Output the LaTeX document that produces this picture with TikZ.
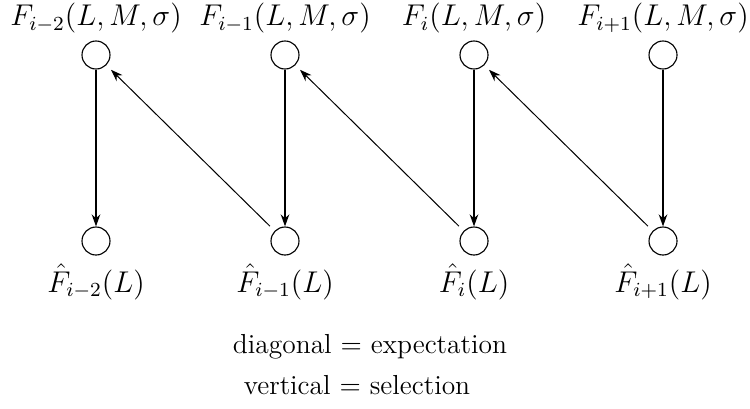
\documentclass[tikz,border=0pt]{standalone}
\usetikzlibrary{arrows.meta}
\begin{document}
\begin{tikzpicture}[x=0.4pt,y=-0.4pt,
  state/.style={circle,draw,line width=0.45pt,minimum size=11.2pt,inner sep=0pt},
  sel/.style={-{Stealth[length=4.8pt,width=3.4pt]},line width=0.8pt},
  expe/.style={-{Stealth[length=4.8pt,width=3.4pt]},line width=0.4pt,shorten <=2.6pt,shorten >=2.6pt},
  lab/.style={inner sep=0pt,font=\fontsize{11.8pt}{14pt}\selectfont},
  note/.style={inner sep=0pt,font=\fontsize{11pt}{13pt}\selectfont}]
\useasboundingbox (0,0) rectangle (750,408);
\node[state] (t1) at (96,55) {};
\node[state] (t2) at (285,55) {};
\node[state] (t3) at (474,55) {};
\node[state] (t4) at (663,55) {};
\node[state] (b1) at (96,241) {};
\node[state] (b2) at (285,241) {};
\node[state] (b3) at (474,241) {};
\node[state] (b4) at (663,241) {};
\node[lab] (lt1) at (96,18) {$F_{i-2}(L,M,\sigma)$};
\node[lab] (lt2) at (285,18) {$F_{i-1}(L,M,\sigma)$};
\node[lab] (lt3) at (474,18) {$F_{i}(L,M,\sigma)$};
\node[lab] (lt4) at (663,18) {$F_{i+1}(L,M,\sigma)$};
\node[lab] (lb1) at (96,282) {$\hat{F}_{i-2}(L)$};
\node[lab] (lb2) at (285,282) {$\hat{F}_{i-1}(L)$};
\node[lab] (lb3) at (474,282) {$\hat{F}_{i}(L)$};
\node[lab] (lb4) at (663,282) {$\hat{F}_{i+1}(L)$};
\draw[sel] (t1) -- (b1);
\draw[sel] (t2) -- (b2);
\draw[sel] (t3) -- (b3);
\draw[sel] (t4) -- (b4);
\draw[expe] (b2) -- (t1);
\draw[expe] (b3) -- (t2);
\draw[expe] (b4) -- (t3);
\node[note] (d1) at (370,347) {diagonal $=$ expectation};
\node[note] (d2) at (357,385) {vertical $=$ selection};
\end{tikzpicture}
\end{document}
